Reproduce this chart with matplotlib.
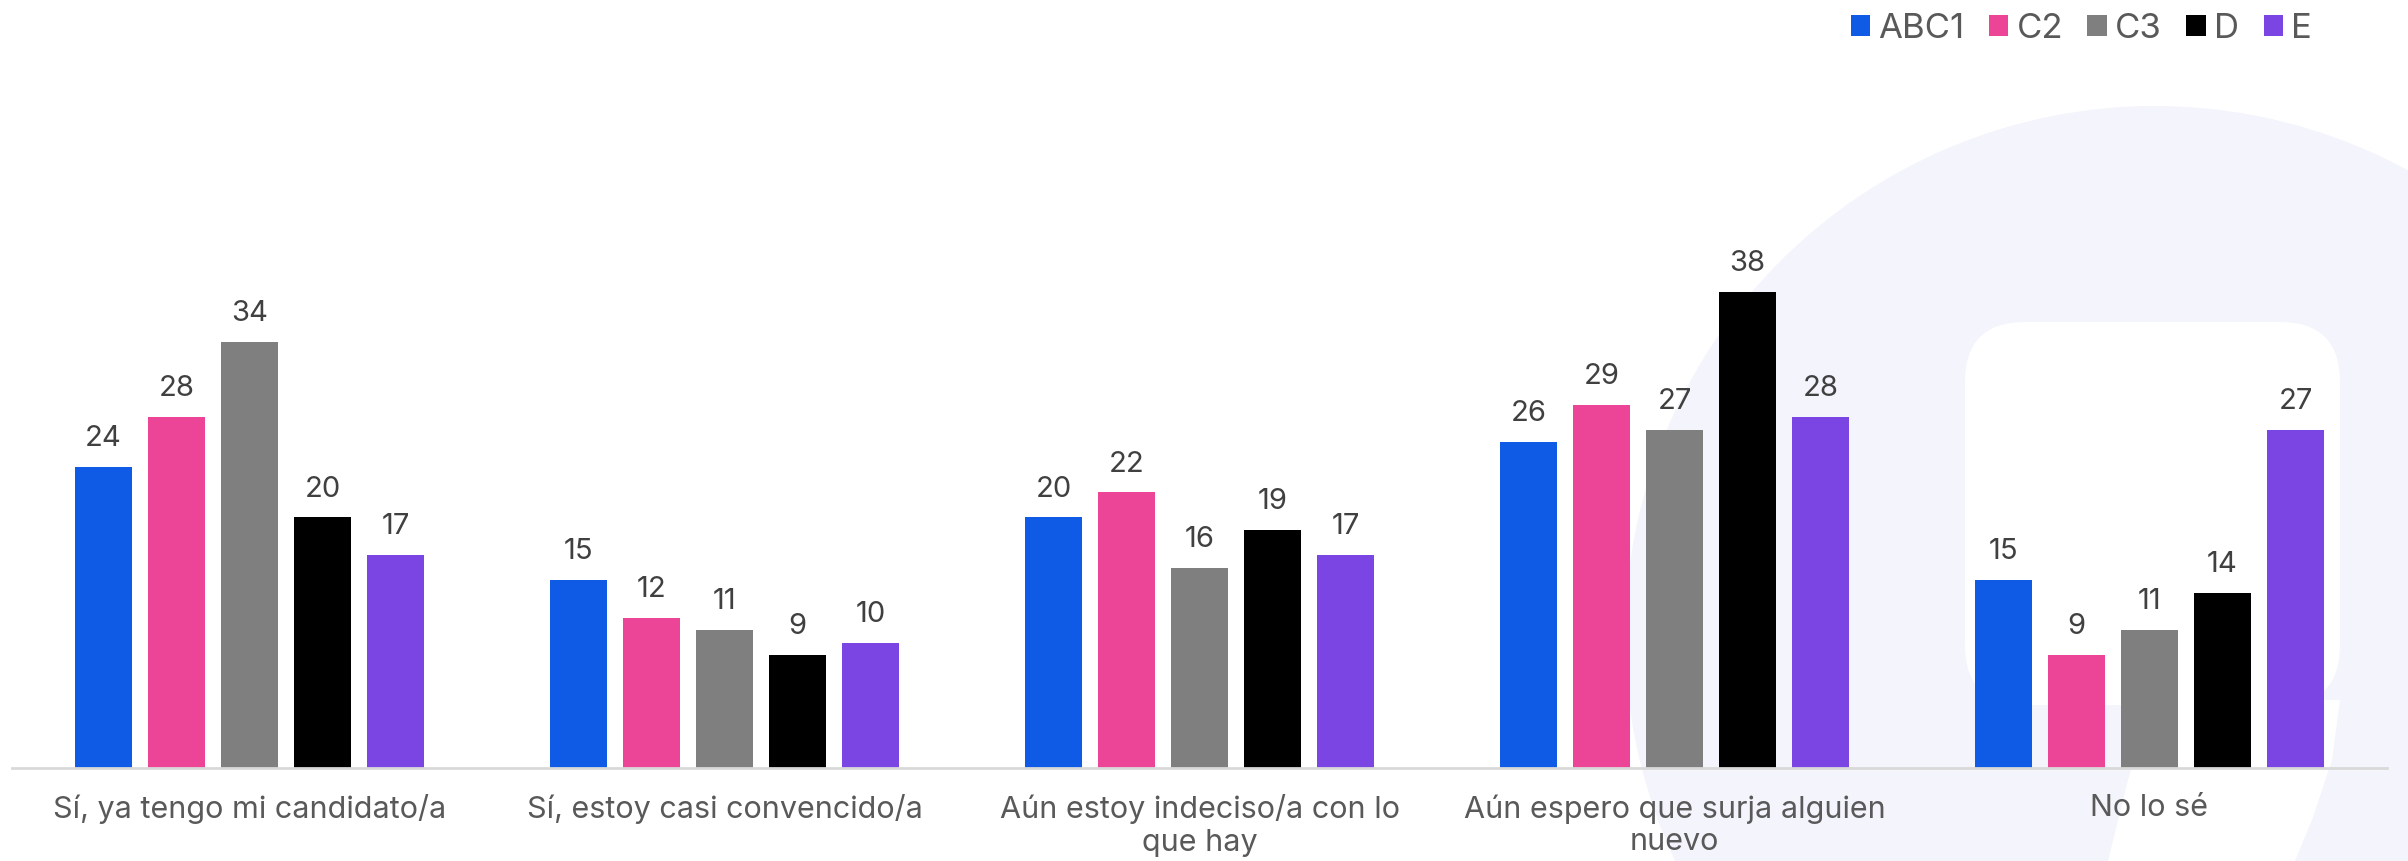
import numpy as np
import matplotlib
matplotlib.use("Agg")
import matplotlib.pyplot as plt
from matplotlib.patches import Circle, FancyBboxPatch, Polygon, Patch

plt.rcParams["font.family"] = ["Inter", "DejaVu Sans"]

# Datos
categorias = [
    "Sí, ya tengo mi candidato/a",
    "Sí, estoy casi convencido/a",
    "Aún estoy indeciso/a con lo\nque hay",
    "Aún espero que surja alguien\nnuevo",
    "No lo sé",
]
grupos = ["ABC1", "C2", "C3", "D", "E"]
abc1 = [24, 15, 20, 26, 15]
c2 = [28, 12, 22, 29, 9]
c3 = [34, 11, 16, 27, 11]
d = [20, 9, 19, 38, 14]
e = [17, 10, 17, 28, 27]
series = [abc1, c2, c3, d, e]
colores = ["#0F5BE5", "#EC4497", "#7F7F7F", "#000000", "#7B45E3"]

W, H = 2408, 861
fig = plt.figure(figsize=(W / 100, H / 100), dpi=100)

# --- Fond (logo en filigrane) ---
bg = fig.add_axes([0, 0, 1, 1], zorder=0)
bg.set_xlim(0, W)
bg.set_ylim(H, 0)
bg.axis("off")
lavanda = "#F3F4FC"
bg.add_patch(Circle((2155, 636), 530, color=lavanda, lw=0))
bg.add_patch(FancyBboxPatch((1965, 322), 375, 383,
                            boxstyle="round,pad=0,rounding_size=60",
                            color="white", lw=0))
bg.add_patch(Polygon([(2150, 700), (2340, 700), (2332, 760), (2312, 820),
                      (2295, 861), (2108, 861), (2128, 780)],
                     closed=True, color="white", lw=0))

# --- Barras ---
ax = fig.add_axes([12 / W, (H - 768) / H, (2387 - 12) / W, 0.9 - (H - 768) / H],
                  zorder=1)
ax.patch.set_alpha(0)
x = np.arange(len(categorias))
ancho = 0.122
paso = 0.1537
for i, (vals, col) in enumerate(zip(series, colores)):
    pos = x + (i - 2) * paso
    ax.bar(pos, vals, width=ancho, color=col, zorder=2)
    for xp, v in zip(pos, vals):
        ax.annotate(str(v), (xp, v), xytext=(0, 15), textcoords="offset points",
                    ha="center", va="baseline", fontsize=21, color="#404040")

ax.set_xlim(-0.5, 4.5)
ax.set_ylim(0, 681.9 / 12.53)
ax.set_xticks(x)
ax.set_xticklabels(categorias, fontsize=22, color="#595959", linespacing=1.2)
ax.tick_params(axis="x", length=0, pad=19)
ax.set_yticks([])
for s in ["top", "right", "left"]:
    ax.spines[s].set_visible(False)
ax.spines["bottom"].set_color("#D9D9D9")
ax.spines["bottom"].set_linewidth(2)

# Leyenda
handles = [Patch(facecolor=c, edgecolor="none") for c in colores]
leg = fig.legend(handles, grupos, loc="upper right", bbox_to_anchor=(2333 / W, 1.009),
                 ncol=5, frameon=False, fontsize=25, handlelength=0.55,
                 handleheight=0.55, handletextpad=0.25, columnspacing=0.7,
                 borderaxespad=0.2)
for t in leg.get_texts():
    t.set_color("#595959")

fig.savefig("out.png", dpi=100, facecolor="white")
